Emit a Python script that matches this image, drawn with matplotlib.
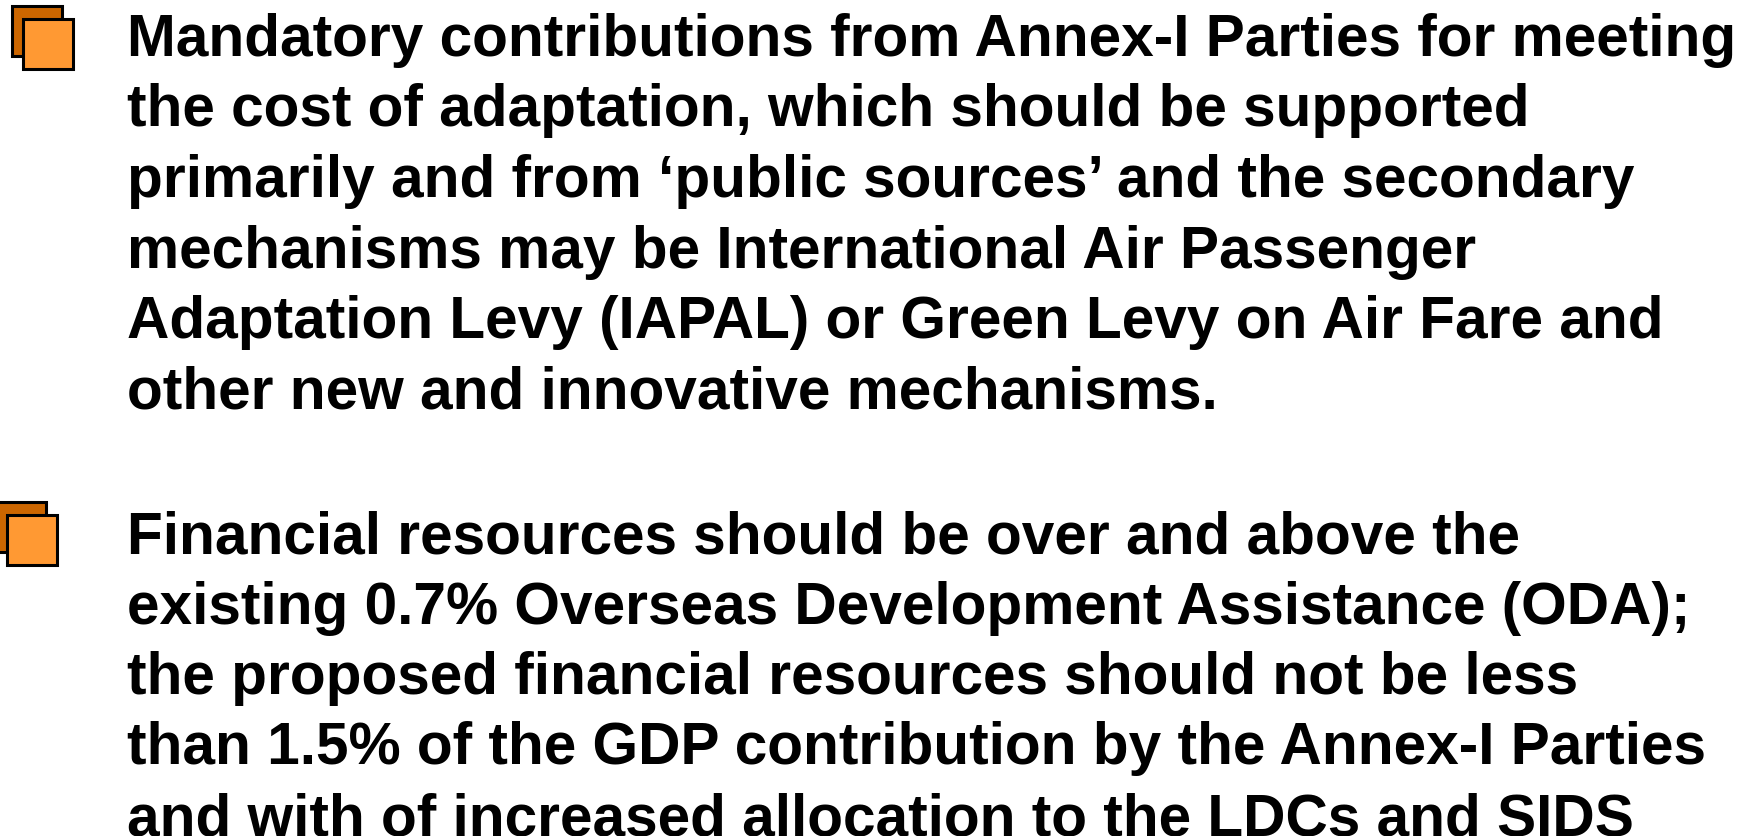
import matplotlib

matplotlib.use("Agg")
import matplotlib.pyplot as plt
from matplotlib.patches import Rectangle

W, H = 1758, 836

PARA1 = [
    "Mandatory contributions from Annex-I Parties for meeting",
    "the cost of adaptation, which should be supported",
    "primarily and from \u2018public sources\u2019 and the secondary",
    "mechanisms may be International Air Passenger",
    "Adaptation Levy (IAPAL) or Green Levy on Air Fare and",
    "other new and innovative mechanisms.",
]
PARA2 = [
    "Financial resources should be over and above the",
    "existing 0.7% Overseas Development Assistance (ODA);",
    "the proposed financial resources should not be less",
    "than 1.5% of the GDP contribution by the Annex-I Parties",
    "and with of increased allocation to the LDCs and SIDS",
]

DARK = "#CC6600"
LIGHT = "#FF9933"

fig = plt.figure(figsize=(W / 100, H / 100), dpi=100)
ax = fig.add_axes([0, 0, 1, 1])
ax.set_xlim(0, W)
ax.set_ylim(H, 0)
ax.axis("off")


def bullet(x, y):
    # back square, then the front one offset down-right
    ax.add_patch(Rectangle((x, y), 50, 50, facecolor=DARK, edgecolor="black", linewidth=2.2))
    ax.add_patch(Rectangle((x + 11, y + 13), 50, 50, facecolor=LIGHT, edgecolor="black", linewidth=2.2))


def paragraph(lines, x, y0, step=70.5):
    for i, line in enumerate(lines):
        ax.text(x, y0 + i * step, line, fontsize=42.2, fontweight="bold",
                family="Liberation Sans", va="baseline", ha="left", color="black")


bullet(12, 6)
bullet(-4, 502)
paragraph(PARA1, 127, 56)
paragraph(PARA2, 127, 553)

fig.savefig("out.png", dpi=100, facecolor="white")
